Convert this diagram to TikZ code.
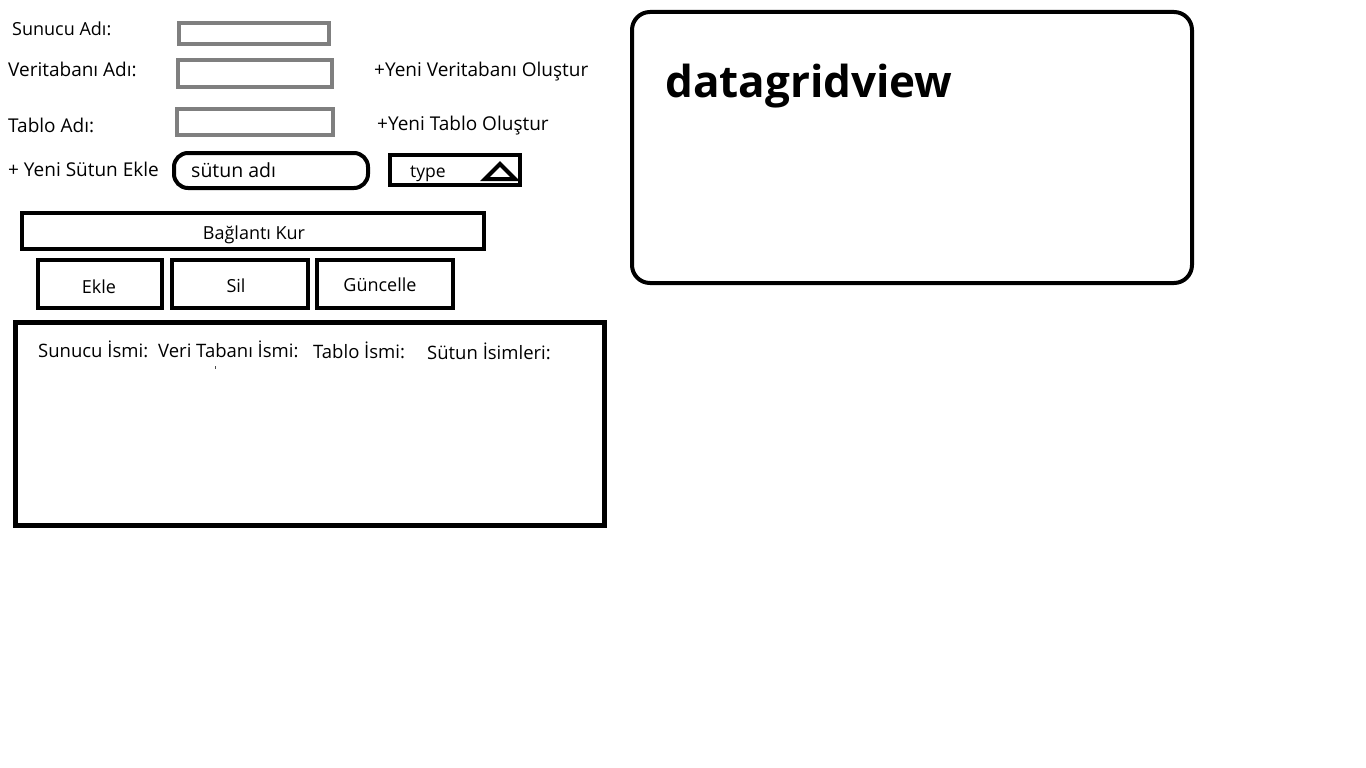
\documentclass[tikz,border=0pt]{standalone}
\usepackage{fontspec}
\setmainfont{Open Sans}
\definecolor{fieldgray}{HTML}{7F7F7F}
\tikzset{
  lbl/.style={anchor=base west, inner sep=0pt, font=\fontsize{19}{22}\selectfont},
  infolbl/.style={anchor=base west, inner sep=0pt, font=\fontsize{18.5}{22}\selectfont},
  btnlbl/.style={anchor=base, inner sep=0pt, font=\fontsize{18}{21}\selectfont},
  field/.style={draw=fieldgray, line width=4pt, inner sep=0pt},
  blackbox/.style={draw=black, line width=4pt, inner sep=0pt},
}
\begin{document}
\begin{tikzpicture}[x=1pt,y=-1pt]
\useasboundingbox[fill=white] (0,0) rectangle (1366,768);

% left labels
\node[lbl, font=\fontsize{18}{22}\selectfont] (srvlbl) at (12,36) {Sunucu Adı:};
\node[lbl] (dblbl) at (8,77) {Veritabanı Adı:};
\node[lbl] (tbllbl) at (8,132) {Tablo Adı:};
\node[lbl] (collbl) at (8,176) {+ Yeni Sütun Ekle};

% input fields
\node[field, minimum width=150pt, minimum height=21pt] (srvbox) at (254,33.5) {};
\node[field, minimum width=154pt, minimum height=27pt] (dbbox) at (255,73.5) {};
\node[field, minimum width=156pt, minimum height=26pt] (tblbox) at (255,122) {};

% right links
\node[lbl] (newdb) at (374,77) {+Yeni Veritabanı Oluştur};
\node[lbl] (newtbl) at (377,130) {+Yeni Tablo Oluştur};

% column name pill
\node[blackbox, rounded corners=14pt, minimum width=194pt, minimum height=35pt] (colbox) at (271,170.5) {};
\node[lbl, font=\fontsize{19.5}{22}\selectfont] (coltxt) at (191,177) {sütun adı};

% type combo
\node[blackbox, minimum width=130pt, minimum height=30pt] (typebox) at (455,170) {};
\node[lbl, font=\fontsize{17.5}{21}\selectfont] (typetxt) at (410,177) {type};
\draw[line width=4pt, line join=miter] (485,179) -- (500,164) -- (515,179) -- cycle;

% buttons
\node[blackbox, minimum width=462pt, minimum height=36pt] (connbtn) at (252.5,231) {};
\node[btnlbl] (conntxt) at (254,239) {Bağlantı Kur};
\node[blackbox, minimum width=124pt, minimum height=48pt] (addbtn) at (100,284) {};
\node[btnlbl] (addtxt) at (99,293) {Ekle};
\node[blackbox, minimum width=136pt, minimum height=48pt] (delbtn) at (240,284) {};
\node[btnlbl] (deltxt) at (236,292) {Sil};
\node[blackbox, minimum width=136pt, minimum height=48pt] (updbtn) at (385,284) {};
\node[btnlbl] (updtxt) at (380,291) {Güncelle};

% info panel
\node[blackbox, line width=5pt, minimum width=589pt, minimum height=203pt] (infobox) at (310,424) {};
\node[infolbl] (i1) at (38,357) {Sunucu İsmi:};
\node[infolbl] (i2) at (158,357) {Veri Tabanı İsmi:};
\node[infolbl] (i3) at (313,358) {Tablo İsmi:};
\node[infolbl] (i4) at (427,359) {Sütun İsimleri:};
\fill[black!70] (214.5,365.5) rectangle (215.5,368.5);

% datagridview
\node[blackbox, rounded corners=18pt, minimum width=560pt, minimum height=271pt] (dgv) at (912,147.5) {};
\node[anchor=base west, inner sep=0pt, font=\fontsize{44}{50}\selectfont\bfseries] (dgvtxt) at (665,98) {datagridview};
\end{tikzpicture}
\end{document}
